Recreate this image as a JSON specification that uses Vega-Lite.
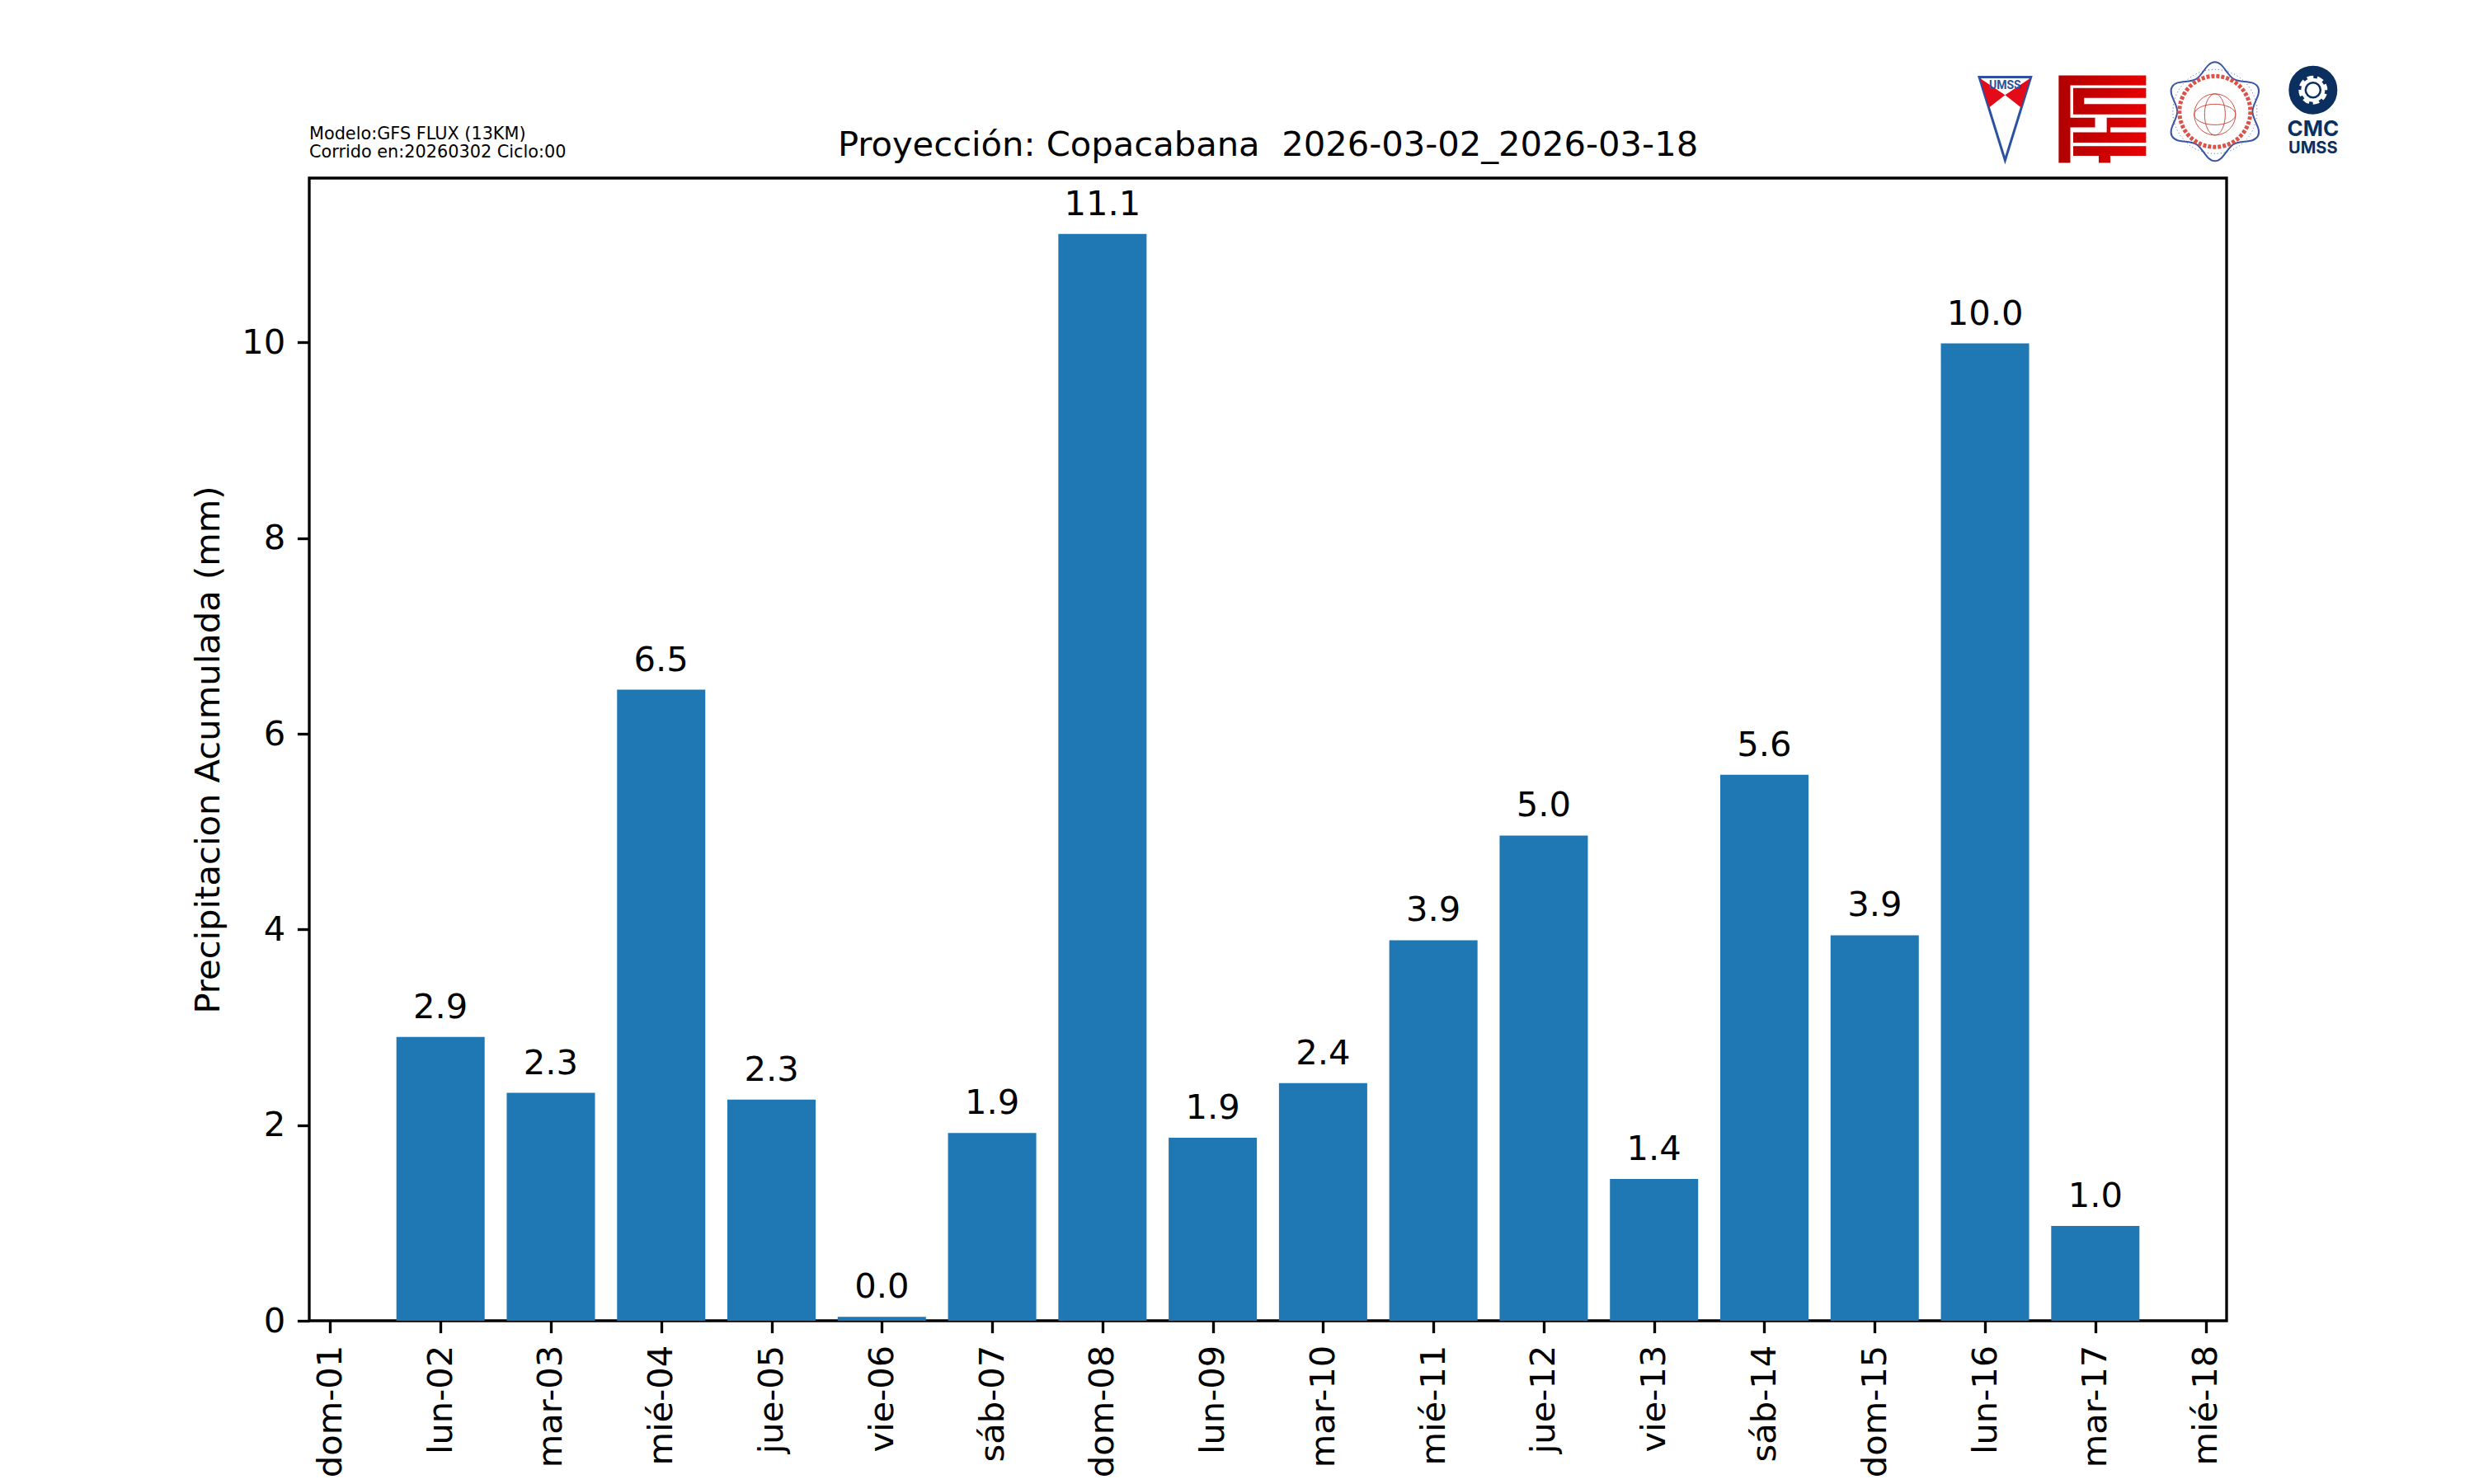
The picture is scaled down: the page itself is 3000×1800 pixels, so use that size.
{
"$schema":"https://vega.github.io/schema/vega-lite/v6.json",
"width":2325,"height":1386,"autosize":{"type":"none"},
"padding":{"left":375,"top":216,"right":300,"bottom":198},
"background":"white",
"config":{"view":{"stroke":"black","strokeWidth":3.33},"font":"DejaVu Sans"},
"title":{"text":"Proyección: Copacabana\u00a0 2026-03-02_2026-03-18","font":"DejaVu Sans","fontSize":41.67,"fontWeight":"normal","color":"black","anchor":"middle","frame":"group","offset":-136},
"layer":[
{"data":{"name":"precip","values":[
{"fecha":"2026-03-02","precip":2.90},{"fecha":"2026-03-03","precip":2.33},{"fecha":"2026-03-04","precip":6.45},{"fecha":"2026-03-05","precip":2.26},{"fecha":"2026-03-06","precip":0.04},{"fecha":"2026-03-07","precip":1.92},{"fecha":"2026-03-08","precip":11.11},{"fecha":"2026-03-09","precip":1.87},{"fecha":"2026-03-10","precip":2.43},{"fecha":"2026-03-11","precip":3.89},{"fecha":"2026-03-12","precip":4.96},{"fecha":"2026-03-13","precip":1.45},{"fecha":"2026-03-14","precip":5.58},{"fecha":"2026-03-15","precip":3.94},{"fecha":"2026-03-16","precip":9.99},{"fecha":"2026-03-17","precip":0.97}]},
"mark":{"type":"bar","size":107,"color":"#1f77b4"},
"encoding":{
"x":{"field":"fecha","type":"temporal","scale":{"type":"utc","nice":false,"padding":0,"domain":[1772306784000,1773808416000]},
"axis":{"title":null,"grid":false,"domain":false,"values":["2026-03-01","2026-03-02","2026-03-03","2026-03-04","2026-03-05","2026-03-06","2026-03-07","2026-03-08","2026-03-09","2026-03-10","2026-03-11","2026-03-12","2026-03-13","2026-03-14","2026-03-15","2026-03-16","2026-03-17","2026-03-18"],
"labelExpr":"['dom','lun','mar','mié','jue','vie','sáb'][utcday(datum.value)]+'-'+utcFormat(datum.value,'%d')",
"labelAngle":270,"labelAlign":"right","labelBaseline":"middle","labelFont":"DejaVu Sans","labelFontSize":41.67,"labelColor":"black","labelPadding":14.6,"labelOverlap":false,"labelFlush":false,"tickSize":14.6,"tickWidth":3.33,"tickColor":"black"}},
"y":{"field":"precip","type":"quantitative","scale":{"domain":[0,11.68],"nice":false},
"axis":{"title":"Precipitacion Acumulada (mm)","titleFont":"DejaVu Sans","titleFontSize":41.67,"titleFontWeight":"normal","titleColor":"black","titlePadding":18,"grid":false,"domain":false,"values":[0,2,4,6,8,10],"format":"d","labelFont":"DejaVu Sans","labelFontSize":41.67,"labelColor":"black","labelPadding":14.6,"tickSize":14.6,"tickWidth":3.33,"tickColor":"black"}}
}},
{"data":{"name":"precip"},
"mark":{"type":"text","font":"DejaVu Sans","fontSize":41.67,"color":"black","baseline":"alphabetic","dy":-23},
"encoding":{"x":{"field":"fecha","type":"temporal"},"y":{"field":"precip","type":"quantitative"},"text":{"field":"precip","type":"quantitative","format":".1f"}}},
{"data":{"values":[{}]},"mark":{"type":"text","font":"DejaVu Sans","fontSize":20.8,"color":"black","align":"left","baseline":"alphabetic","lineHeight":22},
"encoding":{"x":{"datum":1772306784000,"type":"temporal"},"y":{"datum":12.08,"type":"quantitative"},"text":{"value":["Modelo:GFS FLUX (13KM)","Corrido en:20260302 Ciclo:00"]}}},
{"data":{"values":[{}]},"mark":{"type":"point","filled":true,"fill":"white","stroke":"#2a52a0","strokeWidth":3,"opacity":1,"size":10201,"shape":"M-0.62,-1 L0.62,-1 L0,1 Z"},
"encoding":{"x":{"datum":1773634920000,"type":"temporal"},"y":{"datum":12.287,"type":"quantitative"}}},
{"data":{"values":[{}]},"mark":{"type":"point","filled":true,"fill":"#e30b17","strokeWidth":0,"opacity":1,"size":10201,"shape":"M-0.6,-0.97 L0,-0.57 L-0.38,-0.27 Z M0.6,-0.97 L0,-0.57 L0.38,-0.27 Z"},
"encoding":{"x":{"datum":1773634920000,"type":"temporal"},"y":{"datum":12.287,"type":"quantitative"}}},
{"data":{"values":[{}]},"mark":{"type":"text","font":"Roboto","fontSize":14,"fontWeight":"bold","color":"#2a52a0","baseline":"alphabetic"},
"encoding":{"x":{"datum":1773634920000,"type":"temporal"},"y":{"datum":12.59,"type":"quantitative"},"text":{"value":"UMSS"}}},
{"data":{"values":[{}]},"mark":{"type":"point","filled":true,"fill":{"x1":0,"x2":1,"y1":0,"y2":0,"gradient":"linear","stops":[{"offset":0,"color":"#b00000"},{"offset":1,"color":"#e80000"}]},"strokeWidth":0,"opacity":1,"size":11236,"shape":"M-1,-1 H1 V-0.772 H-0.733 V-0.032 H-0.167 V0.19 H-0.733 V1 H-1 Z M-0.667,-0.709 H1 V-0.487 H-0.417 V-0.342 H1 V-0.108 H-0.667 Z M0.1,-0.032 H1 V0.19 H0.183 V0.304 H1 V0.538 H-0.667 V0.304 H0.1 Z M-0.667,0.62 H1 V0.842 H0.183 V1 H-0.083 V0.842 H-0.667 Z"},
"encoding":{"x":{"datum":1773711120000,"type":"temporal"},"y":{"datum":12.283,"type":"quantitative"}}},
{"data":{"values":[{}]},"mark":{"type":"point","filled":false,"stroke":"#3a55a5","strokeWidth":2,"opacity":1,"size":14400,"shape":"M0,-1 C0.17,-1 0.233,-0.743 0.38,-0.658 C0.527,-0.573 0.781,-0.647 0.866,-0.5 C0.951,-0.353 0.76,-0.17 0.76,0 C0.76,0.17 0.951,0.353 0.866,0.5 C0.781,0.647 0.527,0.573 0.38,0.658 C0.233,0.743 0.17,1 0,1 C-0.17,1 -0.233,0.743 -0.38,0.658 C-0.527,0.573 -0.781,0.647 -0.866,0.5 C-0.951,0.353 -0.76,0.17 -0.76,0 C-0.76,-0.17 -0.951,-0.353 -0.866,-0.5 C-0.781,-0.647 -0.527,-0.573 -0.38,-0.658 C-0.233,-0.743 -0.17,-1 0,-1 Z"},
"encoding":{"x":{"datum":1773799260000,"type":"temporal"},"y":{"datum":12.36,"type":"quantitative"}}},
{"data":{"values":[{}]},"mark":{"type":"point","shape":"circle","filled":false,"stroke":"#3a55a5","strokeWidth":1,"strokeDash":[1,3],"opacity":1,"size":10404},
"encoding":{"x":{"datum":1773799260000,"type":"temporal"},"y":{"datum":12.36,"type":"quantitative"}}},
{"data":{"values":[{}]},"mark":{"type":"point","shape":"circle","filled":false,"stroke":"#d9534a","strokeWidth":5,"strokeDash":[4,2],"opacity":1,"size":7400},
"encoding":{"x":{"datum":1773799260000,"type":"temporal"},"y":{"datum":12.36,"type":"quantitative"}}},
{"data":{"values":[{}]},"mark":{"type":"point","filled":false,"stroke":"#cf4a3c","strokeWidth":1,"opacity":1,"size":2500,"shape":"M-1,0 A1,1 0 1,1 1,0 A1,1 0 1,1 -1,0 M0,-1 A0.5,1 0 1,1 0,1 A0.5,1 0 1,1 0,-1 M-1,0 A1,0.5 0 1,1 1,0 A1,0.5 0 1,1 -1,0"},
"encoding":{"x":{"datum":1773799260000,"type":"temporal"},"y":{"datum":12.33,"type":"quantitative"}}},
{"data":{"values":[{}]},"mark":{"type":"point","shape":"circle","filled":false,"stroke":"#0b2f5f","strokeWidth":12,"opacity":1,"size":2209},
"encoding":{"x":{"datum":1773876120000,"type":"temporal"},"y":{"datum":12.58,"type":"quantitative"}}},
{"data":{"values":[{}]},"mark":{"type":"point","shape":"circle","filled":false,"stroke":"#0b2f5f","strokeWidth":5,"strokeDash":[5,8.35],"opacity":1,"size":1156},
"encoding":{"x":{"datum":1773876120000,"type":"temporal"},"y":{"datum":12.58,"type":"quantitative"}}},
{"data":{"values":[{}]},"mark":{"type":"point","shape":"circle","filled":false,"stroke":"#0b2f5f","strokeWidth":2.5,"opacity":1,"size":324},
"encoding":{"x":{"datum":1773876120000,"type":"temporal"},"y":{"datum":12.58,"type":"quantitative"}}},
{"data":{"values":[{}]},"mark":{"type":"text","font":"Inter","fontSize":26,"fontWeight":"bold","color":"#0b2f5f","baseline":"alphabetic"},
"encoding":{"x":{"datum":1773876120000,"type":"temporal"},"y":{"datum":12.106,"type":"quantitative"},"text":{"value":"CMC"}}},
{"data":{"values":[{}]},"mark":{"type":"text","font":"Inter","fontSize":20,"fontWeight":"bold","color":"#0b2f5f","baseline":"alphabetic"},
"encoding":{"x":{"datum":1773876120000,"type":"temporal"},"y":{"datum":11.937,"type":"quantitative"},"text":{"value":"UMSS"}}}
]
}
